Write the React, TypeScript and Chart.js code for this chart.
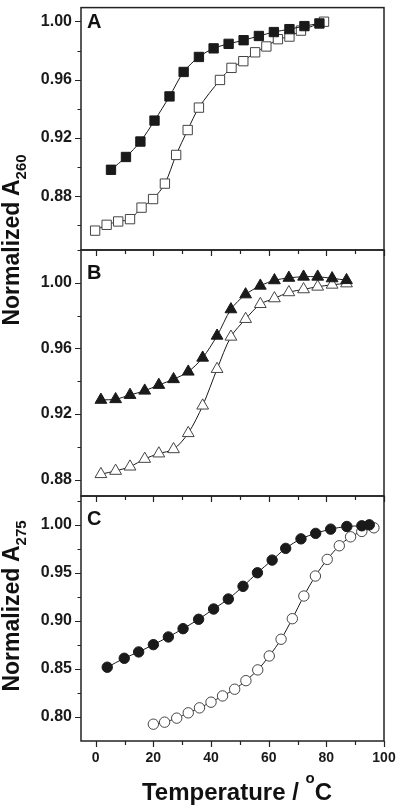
import React, { useEffect, useRef } from 'react';
import { Chart, registerables } from 'chart.js';

Chart.register(...registerables);

const FONT = '"Liberation Sans", Arial, Helvetica, sans-serif';

// ---------- Data ----------
// Panel A (Normalized A260), squares
const A_FILLED_T = [5.3, 10.5, 15.5, 20.4, 25.6, 30.5, 35.8, 40.9, 46.1, 51.3, 56.6, 61.8, 67.2, 72.4, 77.6];
const A_FILLED_V = [0.8981, 0.9069, 0.9175, 0.9319, 0.9485, 0.9653, 0.9756, 0.9815, 0.9846, 0.9871, 0.99, 0.9927, 0.9947, 0.9968, 0.9986];
const A_OPEN_T = [-0.2, 3.8, 7.8, 11.9, 15.9, 19.9, 24.0, 27.9, 31.9, 35.8, 43.1, 47.1, 51.2, 55.3, 59.2, 63.2, 67.2, 71.2, 79.2];
const A_OPEN_V = [0.8563, 0.8603, 0.8626, 0.8642, 0.8721, 0.878, 0.8886, 0.9083, 0.9254, 0.9408, 0.9598, 0.9681, 0.9727, 0.9788, 0.9828, 0.9878, 0.9896, 0.9937, 0.9998];

// Panel B (Normalized A260), triangles
const B_T = [1.8, 6.9, 11.9, 17.0, 21.9, 27.0, 32.1, 37.1, 42.1, 46.9, 52.0, 57.1, 62.0, 67.0, 72.1, 77.0, 82.0, 87.0];
const B_FILLED_V = [0.9286, 0.929, 0.9316, 0.9342, 0.9377, 0.9412, 0.9458, 0.9543, 0.9677, 0.9838, 0.9929, 0.9982, 1.0015, 1.003, 1.0037, 1.0037, 1.0027, 1.0016];
const B_OPEN_V = [0.8833, 0.8853, 0.8879, 0.8926, 0.8959, 0.8985, 0.9083, 0.9251, 0.9474, 0.9671, 0.9779, 0.987, 0.9905, 0.9942, 0.996, 0.9976, 0.9988, 0.9996];

// Panel C (Normalized A275), circles
const C_FILLED_T = [4.0, 9.9, 14.9, 20.0, 25.2, 30.3, 35.7, 40.9, 46.0, 51.1, 56.1, 61.2, 65.9, 71.2, 76.3, 81.5, 87.1, 92.3, 94.9];
const C_FILLED_V = [0.8518, 0.8611, 0.8677, 0.8753, 0.8833, 0.8919, 0.9017, 0.9124, 0.9228, 0.936, 0.9501, 0.9633, 0.9755, 0.9854, 0.9911, 0.9955, 0.9983, 0.999, 1.0];
const C_OPEN_T = [20.0, 23.9, 28.1, 32.1, 36.0, 40.0, 44.0, 48.2, 52.1, 56.2, 60.2, 64.3, 68.2, 72.2, 76.2, 80.3, 84.5, 88.4, 92.3, 96.5];
const C_OPEN_V = [0.7925, 0.7946, 0.7988, 0.8043, 0.8095, 0.8154, 0.8219, 0.8289, 0.8378, 0.849, 0.8635, 0.8809, 0.9023, 0.9259, 0.9467, 0.964, 0.9782, 0.9875, 0.9931, 0.9969];

// Tick labels
const X_TICKS = [0, 20, 40, 60, 80, 100];
const X_MINOR = [10, 30, 50, 70, 90];
const Y_TICKS_AB = [0.88, 0.92, 0.96, 1.0];
const Y_MINOR_A = [0.86, 0.9, 0.94, 0.98];
const Y_MINOR_B = [0.9, 0.94, 0.98, 1.02];
const Y_TICKS_C = [0.8, 0.85, 0.9, 0.95, 1.0];
const Y_MINOR_C = [0.825, 0.875, 0.925, 0.975, 1.025];

const INK = '#1a1a1a';

type Panel = {
  letter: string;
  top: number;
  bottom: number;
  yMin: number;
  yMax: number;
  yTicks: number[];
  yMinor: number[];
  showX: boolean;
  letterY: number;
  style: string;
  radius: number;
  filled: { t: number[]; v: number[] };
  open: { t: number[]; v: number[] };
};

const PANELS: Panel[] = [
  {
    letter: 'A', top: 4, bottom: 250, yMin: 0.843, yMax: 1.0095,
    yTicks: Y_TICKS_AB, yMinor: Y_MINOR_A, showX: false, letterY: 28,
    style: 'rect', radius: 6.6,
    filled: { t: A_FILLED_T, v: A_FILLED_V }, open: { t: A_OPEN_T, v: A_OPEN_V },
  },
  {
    letter: 'B', top: 250, bottom: 496, yMin: 0.87, yMax: 1.02,
    yTicks: Y_TICKS_AB, yMinor: Y_MINOR_B, showX: false, letterY: 279,
    style: 'triangle', radius: 6.8,
    filled: { t: B_T, v: B_FILLED_V }, open: { t: B_T, v: B_OPEN_V },
  },
  {
    letter: 'C', top: 496, bottom: 741, yMin: 0.775, yMax: 1.03,
    yTicks: Y_TICKS_C, yMinor: Y_MINOR_C, showX: true, letterY: 525,
    style: 'circle', radius: 5.2,
    filled: { t: C_FILLED_T, v: C_FILLED_V }, open: { t: C_OPEN_T, v: C_OPEN_V },
  },
];

const W = 400;
const H = 808;
const LEFT = 81;
const RIGHT = 384;
const X_AXIS_H = 30;

const framePlugin = {
  id: 'panelFrame',
  afterDraw(chart: any, _args: any, opts: any) {
    const { ctx, chartArea: a, scales } = chart;
    const xs = scales.x;
    const ys = scales.y;
    ctx.save();
    ctx.strokeStyle = '#222';
    ctx.lineWidth = 1.5;
    ctx.strokeRect(a.left, a.top, a.right - a.left, a.bottom - a.top);
    ctx.lineWidth = 1.2;
    ctx.beginPath();
    for (const v of opts.yTicks) {
      const py = Math.round(ys.getPixelForValue(v)) + 0.5;
      ctx.moveTo(a.left - 6, py);
      ctx.lineTo(a.left, py);
    }
    for (const v of opts.yMinor) {
      const py = Math.round(ys.getPixelForValue(v)) + 0.5;
      ctx.moveTo(a.left - 3.5, py);
      ctx.lineTo(a.left, py);
    }
    for (const v of X_TICKS) {
      const px = Math.round(xs.getPixelForValue(v)) + 0.5;
      ctx.moveTo(px, a.bottom);
      ctx.lineTo(px, a.bottom + 6);
    }
    for (const v of X_MINOR) {
      const px = Math.round(xs.getPixelForValue(v)) + 0.5;
      ctx.moveTo(px, a.bottom);
      ctx.lineTo(px, a.bottom + 4);
    }
    ctx.stroke();
    ctx.fillStyle = '#111';
    ctx.font = `bold 20px ${FONT}`;
    ctx.textAlign = 'left';
    ctx.textBaseline = 'alphabetic';
    ctx.fillText(opts.letter, a.left + 6, opts.letterY);
    ctx.restore();
  },
};

function series(t: number[], v: number[]) {
  return t.map((x, i) => ({ x, y: v[i] }));
}

function makeConfig(p: Panel): any {
  const common = {
    showLine: true,
    borderColor: INK,
    borderWidth: 1,
    tension: 0.3,
    pointStyle: p.style,
    pointRadius: p.radius,
    pointBorderWidth: 1,
    fill: false,
  };
  return {
    type: 'line',
    data: {
      datasets: [
        {
          ...common,
          data: series(p.filled.t, p.filled.v),
          pointBackgroundColor: INK,
          pointBorderColor: INK,
        },
        {
          ...common,
          data: series(p.open.t, p.open.v),
          pointBackgroundColor: '#ffffff',
          pointBorderColor: '#444',
        },
      ],
    },
    options: {
      animation: false,
      responsive: false,
      events: [],
      layout: {
        padding: {
          left: 0,
          right: W - RIGHT,
          top: p.top,
          bottom: p.showX ? H - p.bottom - X_AXIS_H : H - p.bottom,
        },
      },
      plugins: {
        legend: { display: false },
        tooltip: { enabled: false },
        panelFrame: { letter: p.letter, letterY: p.letterY, yTicks: p.yTicks, yMinor: p.yMinor },
      },
      scales: {
        x: {
          type: 'linear',
          min: -5.1,
          max: 100,
          display: p.showX,
          grid: { display: false, drawTicks: false },
          border: { display: false },
          afterBuildTicks: (s: any) => {
            s.ticks = X_TICKS.map((value) => ({ value }));
          },
          afterFit: (s: any) => {
            s.height = p.showX ? X_AXIS_H : 0;
            s.paddingLeft = 0;
            s.paddingRight = 0;
          },
          ticks: {
            padding: 9,
            color: '#1a1a1a',
            font: { family: FONT, size: 14, weight: 'bold' },
            maxRotation: 0,
            autoSkip: false,
            callback: (v: any) => String(v),
          },
        },
        y: {
          type: 'linear',
          position: 'left',
          min: p.yMin,
          max: p.yMax,
          grid: { display: false, drawTicks: false },
          border: { display: false },
          afterBuildTicks: (s: any) => {
            s.ticks = p.yTicks.map((value) => ({ value }));
          },
          afterFit: (s: any) => {
            s.width = LEFT;
            s.paddingTop = 0;
            s.paddingBottom = 0;
          },
          ticks: {
            padding: 9,
            color: '#1a1a1a',
            font: { family: FONT, size: 16, weight: 'bold' },
            autoSkip: false,
            callback: (v: any) => Number(v).toFixed(2),
          },
        },
      },
    },
    plugins: [framePlugin],
  };
}

const labelStyle: React.CSSProperties = {
  position: 'absolute',
  font: `bold 23px ${FONT}`,
  lineHeight: '23px',
  color: '#111',
  whiteSpace: 'nowrap',
  transform: 'translate(-50%, -50%) rotate(-90deg)',
};

export default function App() {
  const canvases = useRef<(HTMLCanvasElement | null)[]>([]);

  useEffect(() => {
    const charts = PANELS.map((p, i) => new Chart(canvases.current[i] as HTMLCanvasElement, makeConfig(p)));
    return () => charts.forEach((c) => c.destroy());
  }, []);

  return (
    <div style={{ position: 'fixed', left: 0, top: 0, width: W, height: H, background: '#fff', overflow: 'hidden' }}>
      {PANELS.map((p, i) => (
        <canvas
          key={p.letter}
          ref={(el) => {
            canvases.current[i] = el;
          }}
          width={W}
          height={H}
          style={{ position: 'absolute', left: 0, top: 0, width: W, height: H }}
        />
      ))}
      <div style={{ ...labelStyle, left: 12, top: 240 }}>
        Normalized A<span style={{ fontSize: 15, position: 'relative', top: 7 }}>260</span>
      </div>
      <div style={{ ...labelStyle, left: 12, top: 606 }}>
        Normalized A<span style={{ fontSize: 15, position: 'relative', top: 7 }}>275</span>
      </div>
      <div
        style={{
          position: 'absolute',
          left: 237,
          top: 780,
          transform: 'translateX(-50%)',
          font: `bold 24px ${FONT}`,
          lineHeight: '23px',
          color: '#111',
          whiteSpace: 'nowrap',
        }}
      >
        Temperature / <span style={{ fontSize: 15, position: 'relative', top: -17 }}>o</span>C
      </div>
    </div>
  );
}
